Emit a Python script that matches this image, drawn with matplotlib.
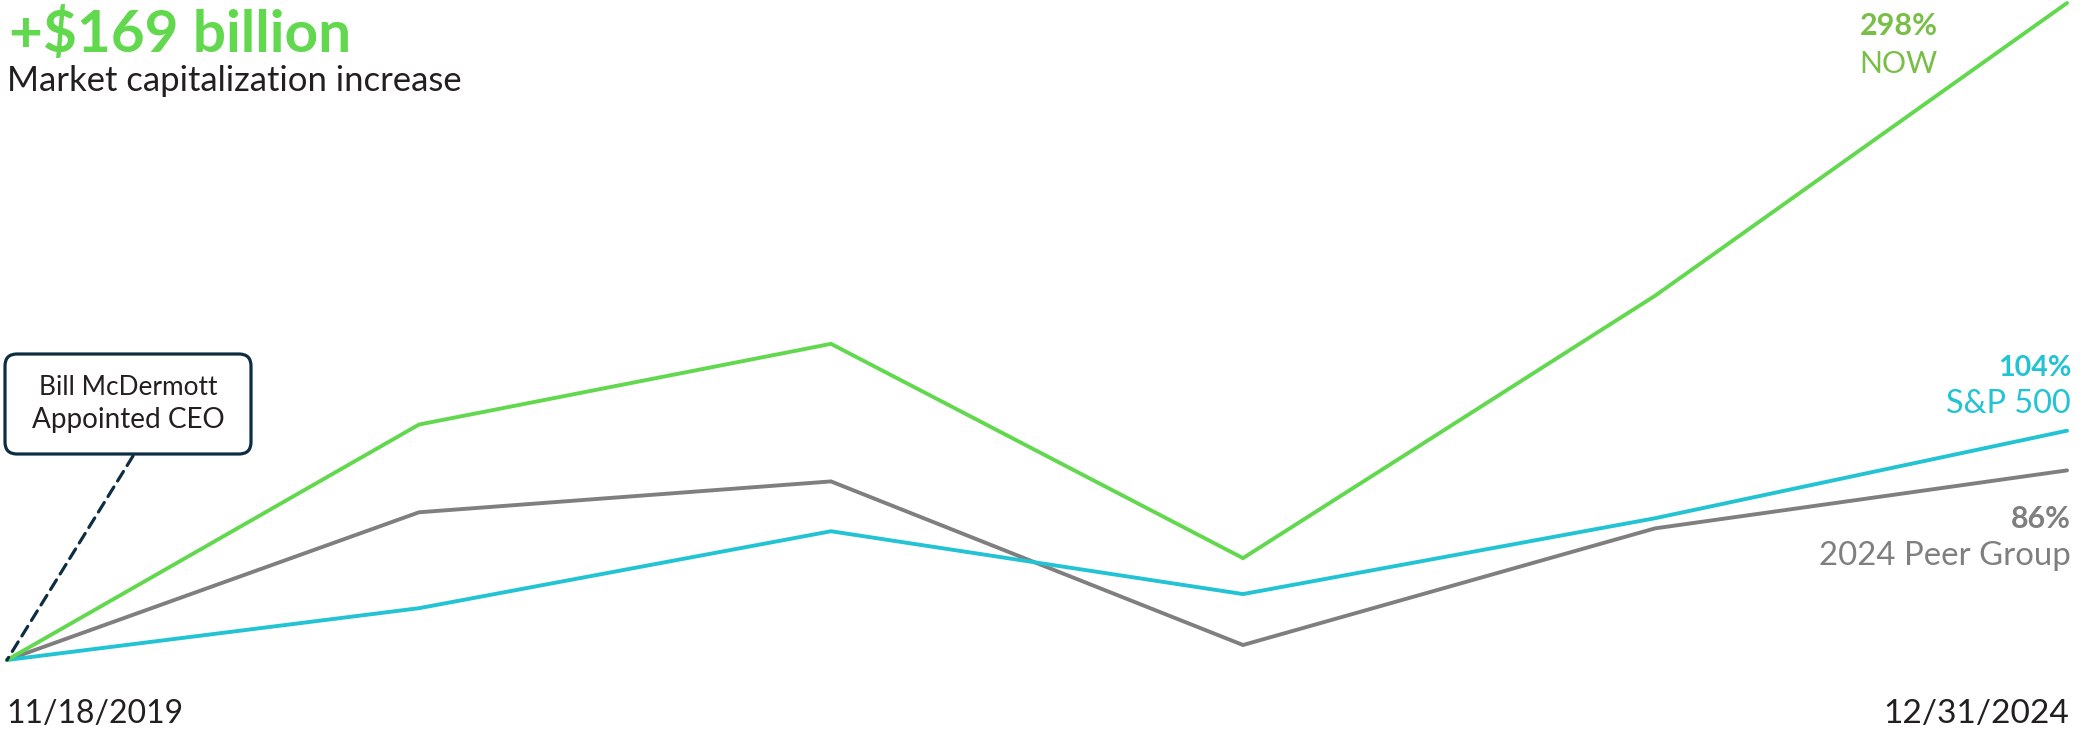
import matplotlib
matplotlib.use('Agg')
import matplotlib.pyplot as plt
from matplotlib.patches import FancyBboxPatch
from matplotlib.transforms import IdentityTransform

plt.rcParams['font.family'] = ['Lato', 'DejaVu Sans']

# Cumulative total return since 11/18/2019 (%)
periods = [0, 1, 2, 3, 4, 5]
now_vals = [0, 106.8, 143.4, 46.2, 165.2, 298]
sp500_vals = [0, 23.5, 58.4, 29.9, 64.3, 104]
peer_vals = [0, 67.0, 81.0, 6.8, 59.7, 86]

start_label = '11/18/2019'
end_label = '12/31/2024'

W, H = 2083, 733
GREEN = '#62D84E'
GREEN_TXT = '#78BE47'
TEAL = '#22C3D3'
GREY = '#7F7F7F'
NAVY = '#0D2E42'
DARK = '#231F20'

fig = plt.figure(figsize=(W / 100, H / 100), dpi=100)
fig.patch.set_facecolor('white')

# axes placed so that 0% sits at pixel row 660 and 298% at row 3
ax = fig.add_axes([7 / W, 73 / H, 2060 / W, 657 / H])
ax.set_xlim(0, 5)
ax.set_ylim(0, 298)
ax.axis('off')

for vals, col in [(peer_vals, GREY), (sp500_vals, TEAL), (now_vals, GREEN)]:
    ax.plot(periods, vals, color=col, lw=2.8, clip_on=False,
            solid_capstyle='round', solid_joinstyle='miter')

renderer = fig.canvas.get_renderer()


def ftext(x, y, s, width=None, **kw):
    # x, y in image pixels (y from top), baseline aligned;
    # font size nudged so the text spans `width` pixels like the original
    t = fig.text(x / W, 1 - y / H, s, va='baseline', **kw)
    if width:
        w = t.get_window_extent(renderer).width
        t.set_fontsize(t.get_fontsize() * width / w)
    return t


# headline
ftext(9, 52, '+$169 billion', 342, fontsize=40, fontweight='bold', color=GREEN)
ftext(7, 91, 'Market capitalization increase', 454, fontsize=21, color=DARK)

# date labels
ftext(6, 723, start_label, 178, fontsize=26, color=DARK)
ftext(2069, 723, end_label, 186, fontsize=26, color=DARK, ha='right')

# end labels
ftext(1938, 35, f'{now_vals[-1]:.0f}%', 78, fontsize=22, fontweight='bold', color=GREEN_TXT, ha='right')
ftext(1938, 73, 'NOW', 78, fontsize=22, color=GREEN_TXT, ha='right')
ftext(2071, 376, f'{sp500_vals[-1]:.0f}%', 73, fontsize=22, fontweight='bold', color=TEAL, ha='right')
ftext(2071, 413, 'S&P 500', 124, fontsize=22, color=TEAL, ha='right')
ftext(2071, 528, f'{peer_vals[-1]:.0f}%', 60, fontsize=22, fontweight='bold', color=GREY, ha='right')
ftext(2071, 565, '2024 Peer Group', 251, fontsize=22, color=GREY, ha='right')

# CEO annotation box + dashed leader
box = FancyBboxPatch((5, H - 454), 246, 100,
                     boxstyle='round,pad=0,rounding_size=12',
                     transform=IdentityTransform(), facecolor='white',
                     edgecolor=NAVY, linewidth=2.3)
fig.patches.append(box)
ftext(128, 395, 'Bill McDermott', 178, fontsize=18, color=DARK, ha='center')
ftext(128, 428, 'Appointed CEO', 192, fontsize=18, color=DARK, ha='center')

ax.annotate('', xy=(0, 0), xytext=(133, H - 456), textcoords='figure pixels',
            arrowprops=dict(arrowstyle='-', color=NAVY, lw=2.3,
                            linestyle=(0, (3.5, 2.2)), shrinkA=0, shrinkB=0),
            annotation_clip=False)

fig.savefig('out.png', dpi=100, facecolor='white')
